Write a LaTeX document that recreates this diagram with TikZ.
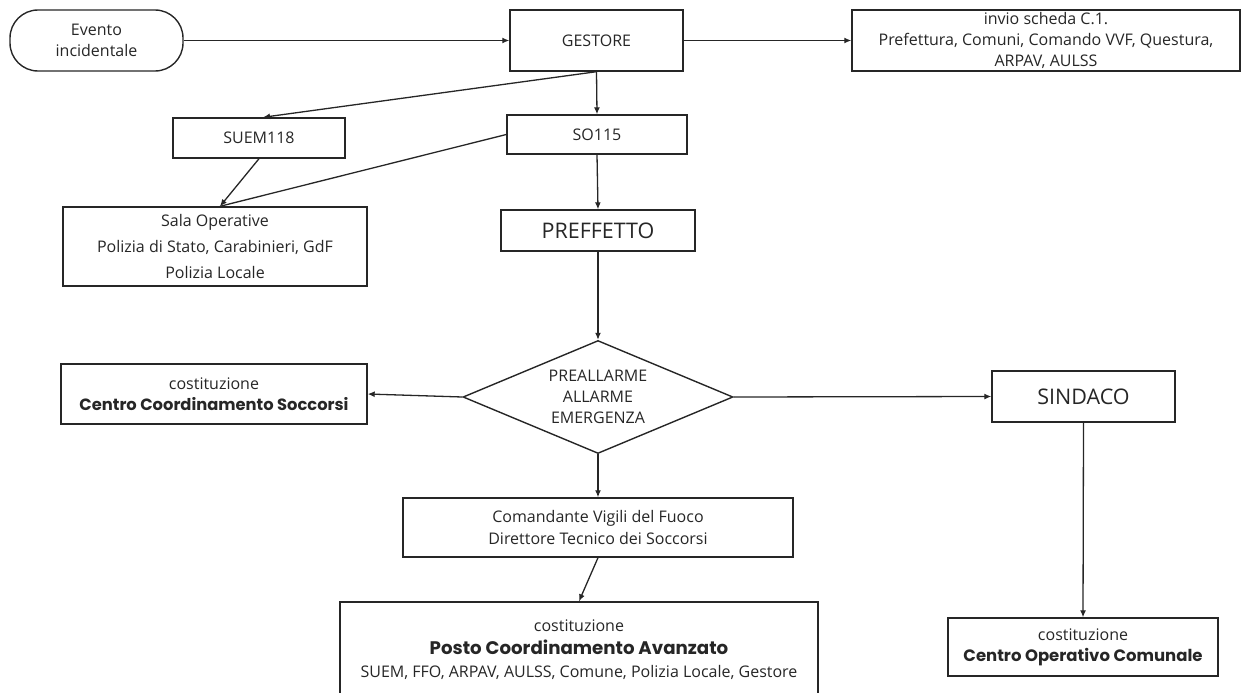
\documentclass[tikz,border=0pt]{standalone}
\usepackage{fontspec}
\setmainfont{Open Sans}
\newfontfamily\boldfam{Poppins}
\usetikzlibrary{shapes.geometric,arrows.meta}
\definecolor{linec}{HTML}{262626}
\definecolor{textc}{HTML}{262626}
\tikzset{
  box/.style={draw=linec, line width=1.4pt, rectangle, inner sep=0pt, align=center, text=textc,
    font=\fontsize{16}{21}\selectfont},
  arr/.style={-{Latex[length=7pt,width=6pt]}, line width=1.3pt, draw=linec},
  link/.style={line width=1.3pt, draw=linec},
  bigtxt/.style={font=\fontsize{21.5}{25}\selectfont},
}
\newcommand{\bt}[1]{{\boldfam\bfseries #1}}
\begin{document}
\begin{tikzpicture}[x=1pt,y=-1pt]
\useasboundingbox (0,0) rectangle (1242,693);
\node[box, rounded corners=28pt, minimum width=173pt, minimum height=61pt] (ev) at (96.5,40.5) {Evento\\incidentale};
\node[box, minimum width=173pt, minimum height=61pt] (ges) at (596.5,40.5) {GESTORE};
\node[box, minimum width=388pt, minimum height=61pt] (inv) at (1046,40.5) {invio scheda C.1.\\Prefettura, Comuni, Comando VVF, Questura,\\ARPAV, AULSS};
\node[box, minimum width=172pt, minimum height=40pt] (suem) at (259,138) {SUEM118};
\node[box, minimum width=180pt, minimum height=39pt] (so) at (597,134.5) {SO115};
\node[box, minimum width=304pt, minimum height=79pt, font=\fontsize{16}{26}\selectfont] (sala) at (215,246.5) {Sala Operative\\Polizia di Stato, Carabinieri, GdF\\Polizia Locale};
\node[box, bigtxt, minimum width=194pt, minimum height=41pt] (pref) at (598,230.5) {PREFFETTO};
\node[box, diamond, aspect=2.39, minimum width=270pt, minimum height=113pt] (dia) at (598,397) {PREALLARME\\ALLARME\\EMERGENZA};
\node[box, minimum width=306pt, minimum height=60pt] (ccs) at (214,394) {costituzione\\{\fontsize{16.3}{21}\selectfont\bt{Centro Coordinamento Soccorsi}}};
\node[box, bigtxt, minimum width=183pt, minimum height=51pt] (sind) at (1083.5,396.5) {SINDACO};
\node[box, minimum width=390pt, minimum height=59pt, font=\fontsize{16}{22}\selectfont] (com) at (598,527.5) {Comandante Vigili del Fuoco\\Direttore Tecnico dei Soccorsi};
\node[box, minimum width=478pt, minimum height=96pt, font=\fontsize{16}{23}\selectfont] (pca) at (579,650) {costituzione\\{\fontsize{18.2}{23}\selectfont\bt{Posto Coordinamento Avanzato}}\\SUEM, FFO, ARPAV, AULSS, Comune, Polizia Locale, Gestore};
\node[box, minimum width=270pt, minimum height=58pt] (coc) at (1083,647) {costituzione\\{\fontsize{16.5}{21}\selectfont\bt{Centro Operativo Comunale}}};
\draw[arr] (ev.east) -- (ges.west);
\draw[arr] (ges.east) -- (inv.west);
\draw[arr] (ges.south) -- ([xshift=4pt]suem.north);
\draw[arr] (ges.south) -- (so.north);
\draw[link] (so.west) -- ([xshift=5pt]sala.north);
\draw[arr] (suem.south) -- ([xshift=5pt]sala.north);
\draw[arr] (so.south) -- (pref.north);
\draw[arr] (pref.south) -- (dia.north);
\draw[arr] (dia.west) -- (ccs.east);
\draw[arr] (dia.east) -- (sind.west);
\draw[arr] (dia.south) -- (com.north);
\draw[arr] (com.south) -- (pca.north);
\draw[arr] (sind.south) -- (coc.north);
\end{tikzpicture}
\end{document}
